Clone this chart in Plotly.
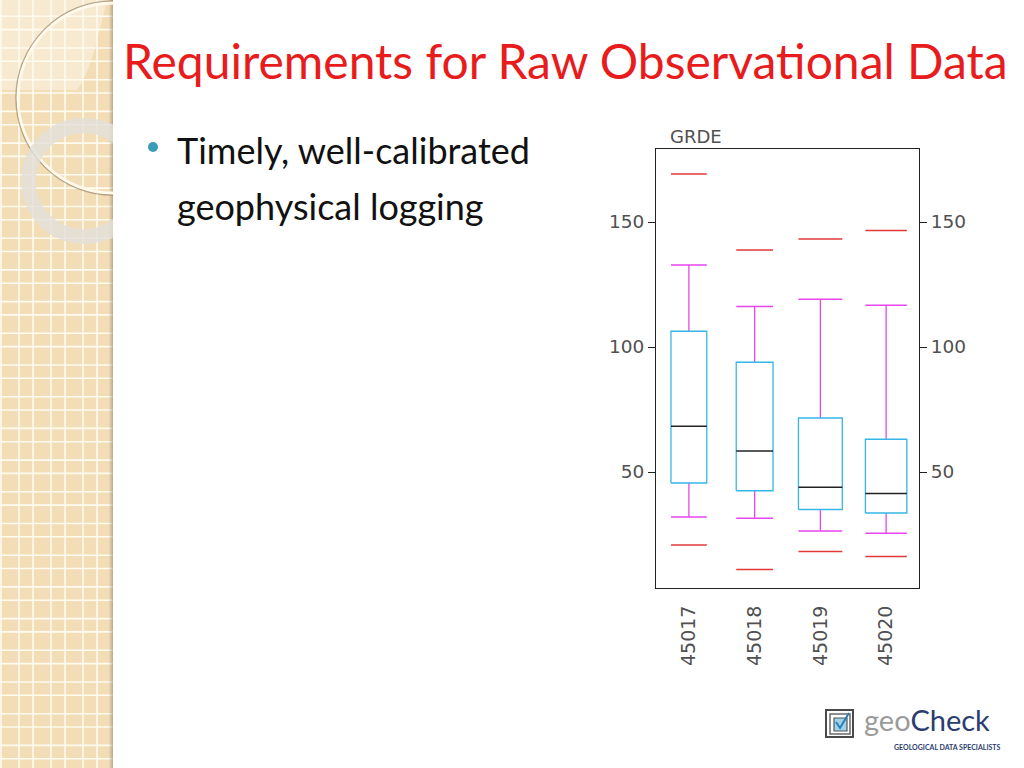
import plotly.graph_objects as go

# ---------------- data ----------------
categories = ["45017", "45018", "45019", "45020"]
data_min = [20.8, 11.0, 18.2, 16.2]
whisker_lo = [32.0, 31.5, 26.4, 25.5]
q1 = [45.6, 42.5, 35.0, 33.6]
median = [68.3, 58.4, 43.9, 41.4]
q3 = [106.3, 93.9, 71.6, 63.1]
whisker_hi = [132.8, 116.2, 119.1, 116.7]
data_max = [169.2, 138.8, 143.2, 146.6]
y_ticks = [50, 100, 150]
y_title = "GRDE"

# ---------------- style ----------------
box_widths = [0.545, 0.56, 0.667, 0.63]
OFF = 0
W, H = 1024, 768
BOX_C = "#35b6e8"
WHISK_C = "#e845ee"
EXT_C = "#e2383a"
MED_C = "#222222"
AX_FONT = dict(family="DejaVu Sans", size=18.5, color="#505050")


def px(x):
    return (x - OFF) / W


def py(y):
    return 1 - (y - OFF) / H


def segs(pairs):
    xs, ys = [], []
    for (x0, y0, x1, y1) in pairs:
        xs += [x0, x1, None]
        ys += [y0, y1, None]
    return xs, ys


fig = go.Figure()

pos = list(range(len(categories)))
med_xy, wh_xy, ext_xy = [], [], []
bx, by = [], []
for i, c in enumerate(categories):
    h = box_widths[i] / 2
    bx += [i - h, i + h, i + h, i - h, i - h, None]
    by += [q1[i], q1[i], q3[i], q3[i], q1[i], None]
    med_xy.append((i - h, median[i], i + h, median[i]))
    wh_xy += [(i, q3[i], i, whisker_hi[i]), (i - h, whisker_hi[i], i + h, whisker_hi[i]),
              (i, q1[i], i, whisker_lo[i]), (i - h, whisker_lo[i], i + h, whisker_lo[i])]
    ext_xy += [(i - h, data_max[i], i + h, data_max[i]), (i - h, data_min[i], i + h, data_min[i])]

wx, wy = segs(wh_xy)
fig.add_trace(go.Scatter(x=wx, y=wy, mode="lines", line=dict(color=WHISK_C, width=1.3),
                         hoverinfo="skip", showlegend=False))
fig.add_trace(go.Scatter(x=bx, y=by, mode="lines", line=dict(color=BOX_C, width=1.3),
                         hoverinfo="skip", showlegend=False))
mx, my = segs(med_xy)
fig.add_trace(go.Scatter(x=mx, y=my, mode="lines", line=dict(color=MED_C, width=1.3),
                         hoverinfo="skip", showlegend=False))
ex, ey = segs(ext_xy)
fig.add_trace(go.Scatter(x=ex, y=ey, mode="lines", line=dict(color=EXT_C, width=1.3),
                         hoverinfo="skip", showlegend=False))
fig.add_trace(go.Scatter(x=[None], y=[None], yaxis="y2", showlegend=False, hoverinfo="skip"))
fig.add_trace(go.Scatter(x=[None], y=[None], xaxis="x3", yaxis="y3", showlegend=False, hoverinfo="skip"))

yr = [3.6, 179.2]
xdom = [px(656), px(919)]
ydom = [py(588), py(149)]

fig.update_layout(
    width=W, height=H, margin=dict(l=0, r=0, t=0, b=0),
    paper_bgcolor="white", plot_bgcolor="white",
    xaxis=dict(domain=xdom, range=[-0.5, 3.5], tickvals=pos, ticktext=categories,
               tickangle=-90, ticks="", showgrid=False, zeroline=False,
               showline=True, mirror=True, linecolor="#222", linewidth=1,
               tickfont=dict(AX_FONT, size=19), ticklabelstandoff=9, anchor="y"),
    yaxis=dict(domain=ydom, range=yr, tickvals=y_ticks, ticks="outside", ticklen=7,
               tickcolor="#222", showgrid=False, zeroline=False, showline=True,
               mirror=True, linecolor="#222", linewidth=1, tickfont=AX_FONT, anchor="x"),
    yaxis2=dict(domain=ydom, range=yr, tickvals=y_ticks, ticks="outside", ticklen=7,
                tickcolor="#222", overlaying="y", side="right", showgrid=False,
                zeroline=False, showline=False, tickfont=AX_FONT, anchor="x"),
    xaxis3=dict(domain=[0, px(113)], range=[OFF, 113], visible=False, anchor="y3",
                fixedrange=True),
    yaxis3=dict(domain=[0, 1], range=[OFF + H, OFF], visible=False, anchor="x3",
                fixedrange=True),
)

shapes = []
# left decorative strip
shapes.append(dict(type="rect", xref="x3", yref="y3", x0=0, x1=113, y0=0, y1=768,
                   fillcolor="#f2ddb6", line=dict(width=0), layer="below"))
vx = [1, 19, 33, 51, 65, 83, 97]
for x in vx:
    shapes.append(dict(type="line", xref="x3", yref="y3", x0=x, x1=x, y0=0, y1=768,
                       line=dict(color="rgba(255,252,242,0.95)", width=1.6), layer="below"))
k = 0
while True:
    ya = 16.3 + 31.7 * k
    yb = 29.6 + 31.7 * k
    if ya > 768:
        break
    for yy in (ya, yb):
        shapes.append(dict(type="line", xref="x3", yref="y3", x0=0, x1=113, y0=yy, y1=yy,
                           line=dict(color="rgba(255,252,242,0.95)", width=1.6), layer="below"))
    k += 1
# lighter upper-left patch
shapes.append(dict(type="path", xref="x3", yref="y3",
                   path="M 0 0 L 107 0 Q 100 30 93 55 Q 85 80 77 90 L 0 90 Z",
                   fillcolor="rgba(255,250,240,0.45)", line=dict(width=0), layer="below"))
for j, a in enumerate([0.10, 0.18, 0.28, 0.40]):
    shapes.append(dict(type="line", xref="x3", yref="y3", x0=109.5 + j, x1=109.5 + j,
                       y0=0, y1=768, line=dict(color=f"rgba(120,105,80,{a})", width=1),
                       layer="below"))
# big circle
shapes.append(dict(type="circle", xref="x3", yref="y3", x0=113 - 97, x1=113 + 97,
                   y0=98 - 97, y1=98 + 97, line=dict(color="rgba(140,120,90,0.6)", width=1.5),
                   layer="below"))
shapes.append(dict(type="circle", xref="x3", yref="y3", x0=113 - 95, x1=113 + 95,
                   y0=98 - 95, y1=98 + 95, line=dict(color="rgba(255,250,236,0.98)", width=2.8),
                   layer="below"))
# ring
shapes.append(dict(type="circle", xref="x3", yref="y3", x0=84 - 55.5, x1=84 + 55.5,
                   y0=181 - 55.5, y1=181 + 55.5, line=dict(color="rgba(226,224,219,0.8)", width=15),
                   layer="below"))

# logo icon
shapes.append(dict(type="rect", xref="paper", yref="paper", x0=px(826), x1=px(853),
                   y0=py(737), y1=py(710), line=dict(color="#4a4a4a", width=2),
                   fillcolor="white"))
shapes.append(dict(type="rect", xref="paper", yref="paper", x0=px(830), x1=px(850),
                   y0=py(734), y1=py(714), line=dict(color="#6a6a6a", width=1.5),
                   fillcolor="white"))
shapes.append(dict(type="rect", xref="paper", yref="paper", x0=px(834), x1=px(847),
                   y0=py(731), y1=py(718), line=dict(color="#555", width=1.2),
                   fillcolor="#9fd3ea"))
shapes.append(dict(type="path", xref="paper", yref="paper",
                   path=f"M {px(836)} {py(722)} L {px(840)} {py(728)} L {px(849)} {py(713)}",
                   line=dict(color="#2a7fb8", width=2)))
# bullet
shapes.append(dict(type="circle", xref="paper", yref="paper", x0=px(148), x1=px(158),
                   y0=py(152), y1=py(142), fillcolor="#3a9cb6", line=dict(width=0)))

fig.update_layout(shapes=shapes)

ann = []
ann.append(dict(text="Requirements for Raw Observational Data", x=px(565), y=py(60),
                xref="paper", yref="paper", showarrow=False, xanchor="center", yanchor="middle",
                font=dict(family="Lato", size=48, color="#e81c1c")))
ann.append(dict(text="Timely, well-calibrated", x=px(175), y=py(150), xref="paper",
                yref="paper", showarrow=False, xanchor="left", yanchor="middle",
                font=dict(family="Lato", size=36, color="#111")))
ann.append(dict(text="geophysical logging", x=px(175), y=py(206), xref="paper",
                yref="paper", showarrow=False, xanchor="left", yanchor="middle",
                font=dict(family="Lato", size=36, color="#111")))
ann.append(dict(text=y_title, x=px(668), y=py(137), xref="paper", yref="paper",
                showarrow=False, xanchor="left", yanchor="middle",
                font=dict(family="DejaVu Sans", size=18, color="#505050")))
ann.append(dict(text="<span style='color:#9b9b9b'>geo</span><span style='color:#2b3d6e'>Check</span>",
                x=px(862), y=py(719), xref="paper", yref="paper", showarrow=False,
                xanchor="left", yanchor="middle",
                font=dict(family="Lato", size=29)))
ann.append(dict(text="<b>GEOLOGICAL DATA SPECIALISTS</b>", x=px(1003), y=py(747), xref="paper",
                yref="paper", showarrow=False, xanchor="right", yanchor="middle",
                font=dict(family="Lato", size=7, color="#2b3d6e")))
fig.update_layout(annotations=ann)

fig.write_html("out.html", config={"displayModeBar": False},
               post_script="document.body.style.margin='0';document.body.style.overflow='hidden';")
